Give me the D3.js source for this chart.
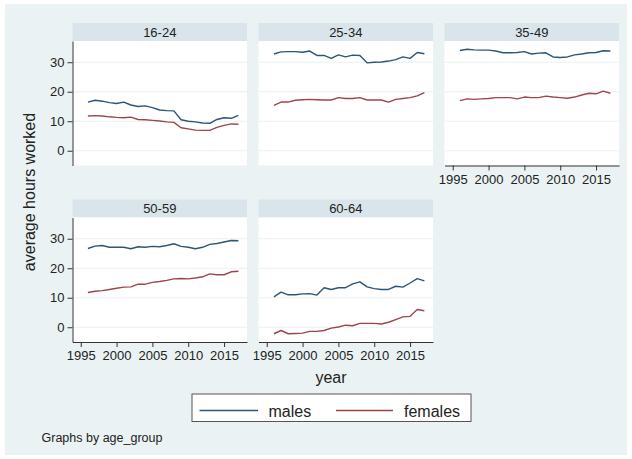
<!DOCTYPE html>
<html>
<head>
<meta charset="utf-8">
<script src="https://cdn.jsdelivr.net/npm/d3@7"></script>
<style>
  html, body { margin: 0; padding: 0; background: #ffffff; }
  svg { display: block; }
  text { font-family: "Liberation Sans", Arial, Helvetica, sans-serif; fill: #222; }
</style>
</head>
<body>
<script>
// Average weekly hours worked by sex, 1996-2017, one panel per age group
const years = d3.range(1996, 2018);
const ageGroups = ["16-24", "25-34", "35-49", "50-59", "60-64"];
const seriesNames = ["males", "females"];

const males_16_24 = [16.5, 17.1, 16.8, 16.3, 16.0, 16.5, 15.5, 15.0, 15.2, 14.6, 13.8, 13.6, 13.5, 10.5, 10.0, 9.8, 9.4, 9.3, 10.6, 11.2, 11.0, 12.0];
const females_16_24 = [11.8, 11.9, 11.8, 11.5, 11.3, 11.2, 11.4, 10.6, 10.5, 10.3, 10.1, 9.8, 9.6, 7.8, 7.4, 7.0, 6.9, 6.9, 7.9, 8.6, 9.1, 9.0];
const males_25_34 = [32.8, 33.5, 33.6, 33.6, 33.4, 33.8, 32.3, 32.3, 31.3, 32.5, 31.8, 32.4, 32.3, 29.8, 30.0, 30.1, 30.4, 30.9, 31.8, 31.3, 33.3, 32.9];
const females_25_34 = [15.4, 16.5, 16.5, 17.1, 17.3, 17.4, 17.3, 17.2, 17.2, 18.0, 17.7, 17.7, 18.0, 17.2, 17.2, 17.2, 16.5, 17.4, 17.7, 18.0, 18.6, 19.7];
const males_35_49 = [34.0, 34.4, 34.2, 34.1, 34.1, 33.8, 33.2, 33.2, 33.3, 33.6, 32.8, 33.1, 33.2, 31.8, 31.6, 31.8, 32.5, 32.8, 33.2, 33.3, 33.9, 33.8];
const females_35_49 = [17.0, 17.6, 17.4, 17.6, 17.7, 18.0, 18.0, 18.0, 17.6, 18.2, 18.0, 18.0, 18.5, 18.2, 18.0, 17.8, 18.2, 18.9, 19.5, 19.3, 20.2, 19.5];
const males_50_59 = [26.7, 27.5, 27.7, 27.1, 27.1, 27.1, 26.6, 27.3, 27.1, 27.4, 27.3, 27.7, 28.3, 27.4, 27.1, 26.6, 27.1, 28.1, 28.4, 28.9, 29.4, 29.3];
const females_50_59 = [11.8, 12.2, 12.4, 12.8, 13.2, 13.6, 13.7, 14.6, 14.6, 15.2, 15.5, 15.9, 16.4, 16.5, 16.4, 16.7, 17.1, 18.1, 17.8, 17.8, 18.8, 19.0];
const males_60_64 = [10.3, 11.9, 11.0, 11.0, 11.3, 11.4, 10.9, 13.4, 12.8, 13.4, 13.4, 14.7, 15.4, 13.7, 13.1, 12.8, 12.8, 13.9, 13.6, 15.0, 16.5, 15.7];
const females_60_64 = [-2.2, -1.1, -2.2, -2.1, -2.0, -1.4, -1.4, -1.1, -0.3, 0.1, 0.7, 0.5, 1.3, 1.3, 1.3, 1.1, 1.7, 2.6, 3.5, 3.7, 6.0, 5.6];

const yTicks = [0, 10, 20, 30];
const xTicks = [1995, 2000, 2005, 2010, 2015];

const panels = [
  { label: ageGroups[0], males: males_16_24, females: females_16_24 },
  { label: ageGroups[1], males: males_25_34, females: females_25_34 },
  { label: ageGroups[2], males: males_35_49, females: females_35_49 },
  { label: ageGroups[3], males: males_50_59, females: females_50_59 },
  { label: ageGroups[4], males: males_60_64, females: females_60_64 }
];

const W = 632, H = 459;
const colors = { males: "#2c5679", females: "#9e454b" };

// panel grid geometry
const colX = [72.5, 258.5, 444.5];
const rowY = [23, 199.5];
const panelW = 174.5, stripH = 18, plotH = 124.5;

const x = d3.scaleLinear().domain([1993.85, 2018.2]).range([0, panelW]);
const y = d3.scaleLinear().domain([-5.0, 37.2]).range([plotH, 0]);

const svg = d3.select("body").append("svg").attr("width", W).attr("height", H);

svg.append("rect").attr("x", 5).attr("y", 4).attr("width", 622).attr("height", 451)
  .attr("fill", "#eaf2f3");

const line = d3.line().x((d, i) => x(years[i])).y(d => y(d));

panels.forEach((p, k) => {
  const col = k % 3, row = Math.floor(k / 3);
  const g = svg.append("g").attr("transform", `translate(${colX[col]},${rowY[row]})`);

  // strip with the age group
  g.append("rect").attr("width", panelW).attr("height", stripH).attr("fill", "#d9e5ea");
  g.append("text").attr("x", panelW / 2).attr("y", stripH / 2 + 4.8)
    .attr("text-anchor", "middle").attr("font-size", 13).text(p.label);

  const plot = g.append("g").attr("transform", `translate(0,${stripH})`);
  plot.append("rect").attr("width", panelW).attr("height", plotH).attr("fill", "#ffffff");

  // horizontal grid
  plot.selectAll("line.grid").data(yTicks).join("line").attr("class", "grid")
    .attr("x1", 0).attr("x2", panelW)
    .attr("y1", d => y(d)).attr("y2", d => y(d))
    .attr("stroke", "#eaf2f3").attr("stroke-width", 1);

  // series
  seriesNames.forEach(s => {
    plot.append("path").datum(p[s]).attr("d", line)
      .attr("fill", "none").attr("stroke", colors[s])
      .attr("stroke-width", 1.4).attr("stroke-linejoin", "round");
  });

  // y axis on the first column
  if (col === 0) {
    const ya = plot.append("g").call(d3.axisLeft(y).tickValues(yTicks).tickSize(5).tickPadding(3).tickSizeOuter(0));
    ya.select(".domain").attr("stroke", "#333");
    ya.selectAll(".tick line").attr("stroke", "#333");
    ya.selectAll(".tick text").attr("font-size", 13).attr("fill", "#222")
      .attr("font-family", "Liberation Sans, Arial, sans-serif");
  }
  // x axis where no panel sits below
  if (row === 1 || col === 2) {
    const xa = plot.append("g").attr("transform", `translate(0,${plotH})`)
      .call(d3.axisBottom(x).tickValues(xTicks).tickFormat(d3.format("d")).tickSize(5).tickPadding(4).tickSizeOuter(0));
    xa.select(".domain").attr("stroke", "#333");
    xa.selectAll(".tick line").attr("stroke", "#333");
    xa.selectAll(".tick text").attr("font-size", 13).attr("fill", "#222")
      .attr("font-family", "Liberation Sans, Arial, sans-serif");
  }
});

// axis titles
svg.append("text").attr("transform", "translate(35,192) rotate(-90)")
  .attr("text-anchor", "middle").attr("font-size", 16).text("average hours worked");
svg.append("text").attr("x", 331).attr("y", 383)
  .attr("text-anchor", "middle").attr("font-size", 16).text("year");

// legend
const lg = svg.append("g");
lg.append("rect").attr("x", 192).attr("y", 394).attr("width", 279).attr("height", 27.5)
  .attr("fill", "#ffffff").attr("stroke", "#555").attr("stroke-width", 1);
const legendItems = [
  { name: "males", x0: 199.5, x1: 258, tx: 268.5 },
  { name: "females", x0: 336, x1: 393, tx: 404 }
];
legendItems.forEach(it => {
  lg.append("line").attr("x1", it.x0).attr("x2", it.x1).attr("y1", 410.5).attr("y2", 410.5)
    .attr("stroke", colors[it.name]).attr("stroke-width", 1.4);
  lg.append("text").attr("x", it.tx).attr("y", 416.5).attr("font-size", 16).text(it.name);
});

svg.append("text").attr("x", 41.5).attr("y", 442).attr("font-size", 12.5).text("Graphs by age_group");
</script>
</body>
</html>
